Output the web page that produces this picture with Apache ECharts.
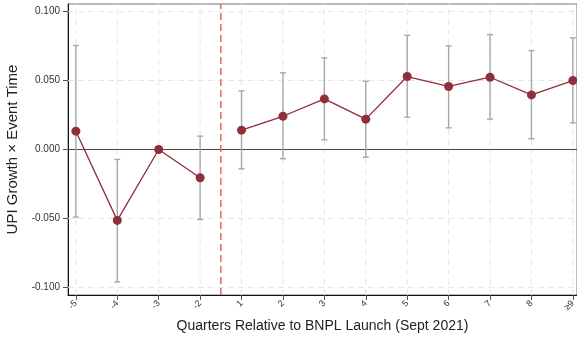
<!DOCTYPE html>
<html>
<head>
<meta charset="utf-8">
<script src="https://cdn.jsdelivr.net/npm/echarts@6/dist/echarts.min.js"></script>
<style>html,body{margin:0;padding:0;background:#fff;}#c{width:577px;height:340px;}</style>
</head>
<body>
<div id="c"></div>
<script>
const tickLabels = ['-5','-4','-3','-2','1','2','3','4','5','6','7','8','≥9'];
const coef   = [0.0133, -0.0514, 0.0000, -0.0205, 0.0140, 0.0241, 0.0367, 0.0220, 0.0529, 0.0457, 0.0524, 0.0396, 0.0500];
const ciLow  = [-0.0490, -0.0960, null, -0.0507, -0.0140, -0.0067, 0.0070, -0.0056, 0.0234, 0.0157, 0.0220, 0.0078, 0.0193];
const ciHigh = [0.0754, -0.0072, null, 0.0097, 0.0425, 0.0556, 0.0664, 0.0495, 0.0828, 0.0751, 0.0833, 0.0717, 0.0810];
const yTicks = [-0.1, -0.05, 0, 0.05, 0.1];
const preIdx = [0, 1, 2, 3];
const postIdx = [4, 5, 6, 7, 8, 9, 10, 11, 12];
const launchPos = 3.5;

const xIdx = tickLabels.map((_, i) => i);
const red = '#8e2f3b';
const X_MIN = -0.19, X_MAX = 12.1, Y_MIN = -0.1055, Y_MAX = 0.1055;

// reference lines: [kind, value]
const refLines = [];
xIdx.forEach(i => refLines.push(['vgrid', i]));
yTicks.filter(v => v !== 0).forEach(v => refLines.push(['hgrid', v]));
refLines.push(['zero', 0]);
refLines.push(['launch', launchPos]);

const errData = xIdx.filter(i => ciLow[i] !== null).map(i => [i, ciLow[i], ciHigh[i]]);

const chart = echarts.init(document.getElementById('c'), null, {renderer: 'canvas'});
chart.setOption({
  animation: false,
  grid: {left: 68, right: 0, top: 4, bottom: 45, outerBoundsMode: 'none', containLabel: false,
         show: true, borderColor: '#777', borderWidth: 1, backgroundColor: '#fff'},
  xAxis: {
    type: 'value', min: X_MIN, max: X_MAX,
    name: 'Quarters Relative to BNPL Launch (Sept 2021)',
    nameLocation: 'middle', nameGap: 24,
    nameTextStyle: {fontFamily: 'Liberation Sans', fontSize: 14, color: '#222'},
    axisLine: {show: true, onZero: false, lineStyle: {color: '#111', width: 1}},
    axisTick: {show: true, inside: false, length: 5, lineStyle: {color: '#555'}, customValues: xIdx},
    axisLabel: {show: true, rotate: 45, fontSize: 9, color: '#333', fontFamily: 'Liberation Sans', margin: 7,
      customValues: xIdx, formatter: v => tickLabels[Math.round(v)]},
    splitLine: {show: false}
  },
  yAxis: {
    type: 'value', min: Y_MIN, max: Y_MAX,
    name: 'UPI Growth × Event Time',
    nameLocation: 'middle', nameGap: 40,
    nameTextStyle: {fontFamily: 'Liberation Sans', fontSize: 15, color: '#222'},
    axisLine: {show: true, onZero: false, lineStyle: {color: '#111', width: 1}},
    axisTick: {show: true, inside: false, length: 5, lineStyle: {color: '#555'}, customValues: yTicks},
    axisLabel: {show: true, fontSize: 10, color: '#333', fontFamily: 'Liberation Sans', margin: 8,
      customValues: yTicks, formatter: v => v.toFixed(3)},
    splitLine: {show: false}
  },
  series: [
    {
      type: 'custom', z: 1, silent: true, clip: true,
      data: refLines.map((r, k) => [k, r[1]]),
      renderItem: function (params, api) {
        const r = refLines[api.value(0)];
        const v = api.value(1);
        let p1, p2, style;
        if (r[0] === 'vgrid' || r[0] === 'launch') {
          p1 = api.coord([v, Y_MIN]); p2 = api.coord([v, Y_MAX]);
        } else {
          p1 = api.coord([X_MIN, v]); p2 = api.coord([X_MAX, v]);
        }
        if (r[0] === 'vgrid' || r[0] === 'hgrid') style = {stroke: '#e6e6e6', lineWidth: 1, lineDash: [6, 4]};
        else if (r[0] === 'zero') style = {stroke: '#444', lineWidth: 1};
        else style = {stroke: '#f06060', lineWidth: 1.5, lineDash: [7, 4]};
        return {type: 'line', shape: {x1: p1[0], y1: p1[1], x2: p2[0], y2: p2[1]}, style: style,
                z2: r[0] === 'zero' || r[0] === 'launch' ? 2 : 1};
      }
    },
    {
      type: 'custom', z: 2, silent: true,
      data: errData,
      renderItem: function (params, api) {
        const x = api.value(0);
        const lo = api.coord([x, api.value(1)]);
        const hi = api.coord([x, api.value(2)]);
        const cap = 3;
        const style = {stroke: '#a8a8a8', lineWidth: 1.4};
        return {type: 'group', children: [
          {type: 'line', shape: {x1: lo[0], y1: lo[1], x2: hi[0], y2: hi[1]}, style},
          {type: 'line', shape: {x1: lo[0] - cap, y1: lo[1], x2: lo[0] + cap, y2: lo[1]}, style},
          {type: 'line', shape: {x1: hi[0] - cap, y1: hi[1], x2: hi[0] + cap, y2: hi[1]}, style}
        ]};
      }
    },
    {
      type: 'line', z: 3, data: preIdx.map(i => [i, coef[i]]),
      symbol: 'circle', symbolSize: 9,
      lineStyle: {color: red, width: 1.3}, itemStyle: {color: red}
    },
    {
      type: 'line', z: 3, data: postIdx.map(i => [i, coef[i]]),
      symbol: 'circle', symbolSize: 9,
      lineStyle: {color: red, width: 1.3}, itemStyle: {color: red}
    }
  ]
});
</script>
</body>
</html>
